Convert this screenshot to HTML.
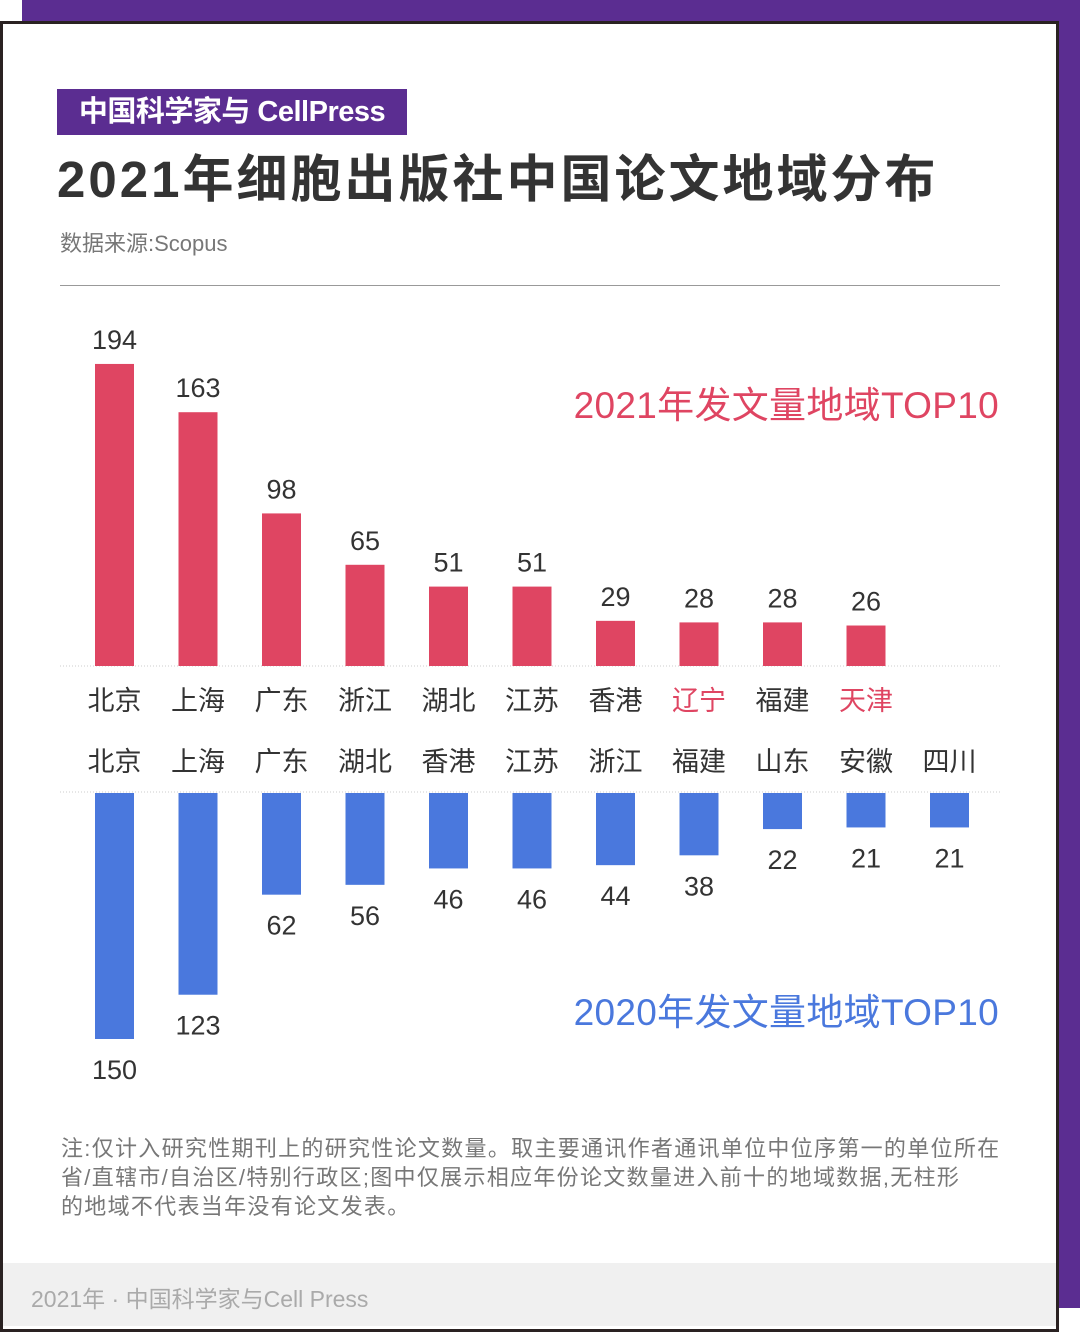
<!DOCTYPE html>
<html><head><meta charset="utf-8"><style>
body{margin:0;width:1080px;height:1331px;position:relative;overflow:hidden;background:#fff;font-family:"Liberation Sans","Noto Sans CJK SC",sans-serif}
.abs{position:absolute}
</style></head><body>
<div class="abs" style="left:22px;top:0;width:1058px;height:1308px;background:#5b2d91"></div>
<div class="abs" style="left:0;top:21px;width:1053px;height:1305px;border:3px solid #2a2222;background:#fff"></div>
<div class="abs" style="left:3px;top:1263px;width:1053px;height:63px;background:#f0f0f0"></div>
<div class="abs" style="left:31px;top:1280px;font-size:23px;color:#aaa">2021年 · 中国科学家与Cell Press</div>
<div class="abs" style="left:57px;top:89px;width:350px;height:46px;background:#5b2d91;color:#fff;font-size:29px;font-weight:bold;line-height:46px;text-align:center;letter-spacing:-0.5px">中国科学家与 CellPress</div>
<div class="abs" style="left:57px;top:138px;font-size:51px;font-weight:bold;color:#333;letter-spacing:3px">2021年细胞出版社中国论文地域分布</div>
<div class="abs" style="left:60px;top:226px;font-size:22px;color:#777">数据来源:Scopus</div>
<div class="abs" style="left:60px;top:285px;width:940px;height:1px;background:#999"></div>
<div class="abs" style="right:81px;top:375px;font-size:37px;color:#df4562;letter-spacing:0.3px">2021年发文量地域TOP10</div>
<div class="abs" style="right:81px;top:982px;font-size:37px;color:#4a78dd;letter-spacing:0.3px">2020年发文量地域TOP10</div>
<div class="abs" style="left:61px;top:1134px;white-space:nowrap;font-size:22px;line-height:29px;color:#777;letter-spacing:1.3px">注:仅计入研究性期刊上的研究性论文数量。取主要通讯作者通讯单位中位序第一的单位所在<br>省/直辖市/自治区/特别行政区;图中仅展示相应年份论文数量进入前十的地域数据,无柱形<br>的地域不代表当年没有论文发表。</div>
<svg class="abs" style="left:0;top:0" width="1080" height="1331" id="chart"></svg>
<script>
const regions2021=["北京","上海","广东","浙江","湖北","江苏","香港","辽宁","福建","天津"];
const values2021=[194,163,98,65,51,51,29,28,28,26];
const highlight2021=["辽宁","天津"];
const regions2020=["北京","上海","广东","湖北","香港","江苏","浙江","福建","山东","安徽","四川"];
const values2020=[150,123,62,56,46,46,44,38,22,21,21];
const svg=document.getElementById('chart');const NS='http://www.w3.org/2000/svg';
const x=i=>114.5+83.5*i;
const y21=v=>666-v*1.557;
const y20=v=>793+v*1.64;
function mk(t,a,txt){const e=document.createElementNS(NS,t);for(const k in a)e.setAttribute(k,a[k]);if(txt!==undefined)e.textContent=txt;svg.appendChild(e);return e;}
[666,792].forEach(yy=>{const l=mk('line',{x1:60,x2:1000,y1:yy,y2:yy,stroke:'#ccc','stroke-dasharray':'1 2'});

});
const F='"Liberation Sans","Noto Sans CJK SC",sans-serif';
values2021.forEach((v,i)=>{
const r=mk('rect',{x:x(i)-19.5,y:y21(v),width:39,height:666-y21(v),fill:'#df4562'});


const t=mk('text',{x:x(i),y:y21(v)-15,'text-anchor':'middle','font-size':27,fill:'#333','font-family':F},v);


const c=mk('text',{x:x(i),y:710,'text-anchor':'middle','font-size':27,fill:highlight2021.includes(regions2021[i])?'#df4562':'#333','font-family':F},regions2021[i]);


});
values2020.forEach((v,i)=>{
const r=mk('rect',{x:x(i)-19.5,y:793,width:39,height:y20(v)-793,fill:'#4a78dd'});


const t=mk('text',{x:x(i),y:y20(v)+40,'text-anchor':'middle','font-size':27,fill:'#333','font-family':F},v);


const c=mk('text',{x:x(i),y:771,'text-anchor':'middle','font-size':27,fill:'#333','font-family':F},regions2020[i]);


});
</script>
</body></html>
